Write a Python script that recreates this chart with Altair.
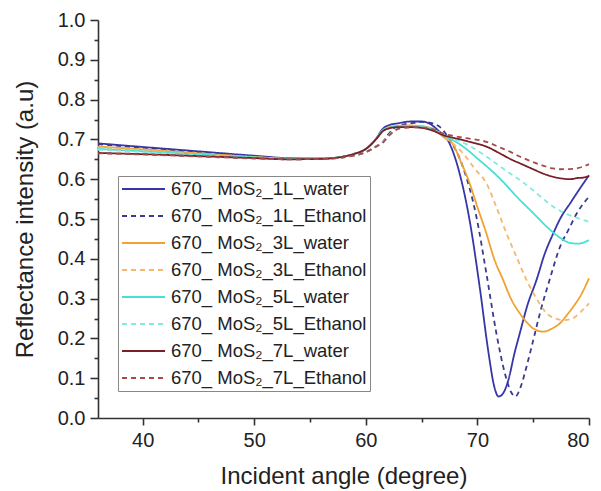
import altair as alt
import pandas as pd

# ---- data ----
SERIES = [
    "670_ MoS\u2082_1L_water",
    "670_ MoS\u2082_1L_Ethanol",
    "670_ MoS\u2082_3L_water",
    "670_ MoS\u2082_3L_Ethanol",
    "670_ MoS\u2082_5L_water",
    "670_ MoS\u2082_5L_Ethanol",
    "670_ MoS\u2082_7L_water",
    "670_ MoS\u2082_7L_Ethanol",
]
COLORS = ["#3636A8", "#3A3A90", "#F0A232", "#F4B870",
          "#46E0D6", "#86E8E0", "#7A1E28", "#A84A4A"]
DASHES = [[1, 0], [5, 4], [1, 0], [5, 4], [1, 0], [5, 4], [1, 0], [5, 4]]

X_LEFT = [36, 40, 45, 50, 53, 56, 58, 59, 60, 60.5, 61, 61.5, 62, 63, 64, 65]
Y_LEFT_1W = [0.690, 0.681, 0.670, 0.659, 0.653, 0.652, 0.657, 0.664, 0.676, 0.688, 0.705, 0.726, 0.735, 0.741, 0.745, 0.745]
Y_LEFT_3W = [0.682, 0.675, 0.665, 0.656, 0.652, 0.652, 0.657, 0.664, 0.676, 0.688, 0.704, 0.722, 0.730, 0.734, 0.735, 0.733]
Y_LEFT_5W = [0.676, 0.670, 0.662, 0.655, 0.651, 0.652, 0.657, 0.664, 0.676, 0.688, 0.704, 0.722, 0.729, 0.733, 0.734, 0.732]
Y_LEFT_7W = [0.666, 0.663, 0.658, 0.653, 0.650, 0.651, 0.657, 0.664, 0.676, 0.688, 0.703, 0.720, 0.727, 0.731, 0.731, 0.729]

X_LEFT_E = [36, 40, 45, 50, 53, 56, 58, 59, 60, 60.5, 61, 61.5, 62, 62.5, 63, 64, 65]
Y_LEFT_1E = [0.688, 0.679, 0.668, 0.657, 0.652, 0.651, 0.655, 0.660, 0.668, 0.675, 0.684, 0.693, 0.712, 0.727, 0.735, 0.740, 0.744]
Y_LEFT_3E = [0.680, 0.673, 0.663, 0.655, 0.651, 0.651, 0.655, 0.660, 0.668, 0.675, 0.683, 0.692, 0.708, 0.722, 0.729, 0.733, 0.733]
Y_LEFT_5E = [0.674, 0.668, 0.660, 0.654, 0.650, 0.651, 0.655, 0.660, 0.668, 0.675, 0.683, 0.692, 0.708, 0.722, 0.729, 0.733, 0.732]
Y_LEFT_7E = [0.665, 0.662, 0.657, 0.652, 0.650, 0.651, 0.655, 0.660, 0.668, 0.675, 0.683, 0.691, 0.707, 0.720, 0.727, 0.730, 0.730]

X_1W = [65.8, 66.5, 67.5, 68.4, 69.3, 70.2, 71.0, 71.5, 71.9, 72.3, 72.8, 73.3, 73.8, 74.5, 75.3, 76.0, 76.8, 77.5, 78.3, 79.1, 80]
Y_1W = [0.738, 0.722, 0.690, 0.615, 0.497, 0.330, 0.163, 0.080, 0.054, 0.062, 0.098, 0.160, 0.213, 0.285, 0.347, 0.410, 0.464, 0.505, 0.539, 0.573, 0.610]
X_1E = [66.0, 66.6, 67.5, 68.7, 69.9, 70.8, 71.7, 72.5, 73.0, 73.4, 73.9, 74.4, 75.0, 75.6, 76.5, 77.4, 78.2, 78.9, 80]
Y_1E = [0.740, 0.732, 0.700, 0.631, 0.507, 0.364, 0.213, 0.108, 0.066, 0.054, 0.080, 0.129, 0.195, 0.263, 0.350, 0.430, 0.475, 0.514, 0.556]
X_3W = [66, 67, 67.8, 68.5, 69.3, 70, 70.8, 71.5, 72.3, 73, 73.8, 74.5, 75.0, 75.9, 76.7, 77.4, 78, 78.6, 79.3, 80]
Y_3W = [0.727, 0.705, 0.688, 0.645, 0.590, 0.530, 0.464, 0.400, 0.347, 0.300, 0.263, 0.238, 0.225, 0.217, 0.225, 0.238, 0.258, 0.280, 0.310, 0.351]
X_3E = [66, 67, 68, 68.7, 69.8, 70.8, 71.7, 72.6, 73.5, 74.4, 75.3, 76.2, 77, 77.7, 78.5, 79.2, 80]
Y_3E = [0.725, 0.707, 0.685, 0.665, 0.625, 0.590, 0.530, 0.464, 0.405, 0.347, 0.300, 0.263, 0.250, 0.246, 0.250, 0.265, 0.288]
X_5W = [66, 67, 67.8, 69, 70, 70.8, 72, 73, 73.8, 75, 76.2, 77.3, 78.3, 79, 80]
Y_5W = [0.725, 0.709, 0.698, 0.676, 0.652, 0.633, 0.602, 0.572, 0.548, 0.515, 0.481, 0.455, 0.440, 0.438, 0.447]
X_5E = [66, 67, 68, 69, 70, 70.8, 72, 73, 73.8, 75, 76, 76.8, 77.8, 78.6, 80]
Y_5E = [0.727, 0.712, 0.700, 0.688, 0.672, 0.657, 0.633, 0.613, 0.598, 0.572, 0.548, 0.531, 0.515, 0.506, 0.493]
X_7W = [66, 67, 68, 69, 70, 70.8, 72, 73, 73.8, 75, 76, 76.8, 77.5, 78.3, 79, 79.5, 80]
Y_7W = [0.722, 0.710, 0.703, 0.696, 0.689, 0.682, 0.665, 0.650, 0.640, 0.625, 0.613, 0.606, 0.602, 0.600, 0.603, 0.604, 0.608]
X_7E = [66, 67, 68, 69, 70, 70.8, 72, 73, 73.8, 75, 76, 76.8, 77.5, 78.5, 79.3, 80]
Y_7E = [0.726, 0.714, 0.708, 0.703, 0.699, 0.694, 0.680, 0.668, 0.657, 0.643, 0.633, 0.627, 0.625, 0.626, 0.630, 0.638]

X_TICKS = [40, 50, 60, 70, 80]
X_MINOR = [45, 55, 65, 75]
Y_TICKS = [0.0, 0.1, 0.2, 0.3, 0.4, 0.5, 0.6, 0.7, 0.8, 0.9, 1.0]
Y_MINOR = [0.05, 0.15, 0.25, 0.35, 0.45, 0.55, 0.65, 0.75, 0.85, 0.95]

parts = [
    (X_LEFT + X_1W, Y_LEFT_1W + Y_1W),
    (X_LEFT_E + X_1E, Y_LEFT_1E + Y_1E),
    (X_LEFT + X_3W, Y_LEFT_3W + Y_3W),
    (X_LEFT_E + X_3E, Y_LEFT_3E + Y_3E),
    (X_LEFT + X_5W, Y_LEFT_5W + Y_5W),
    (X_LEFT_E + X_5E, Y_LEFT_5E + Y_5E),
    (X_LEFT + X_7W, Y_LEFT_7W + Y_7W),
    (X_LEFT_E + X_7E, Y_LEFT_7E + Y_7E),
]
rows = []
for name, (xs, ys) in zip(SERIES, parts):
    for xv, yv in zip(xs, ys):
        rows.append({"series": name, "angle": xv, "refl": yv})
df = pd.DataFrame(rows)

FONT = "Liberation Sans"
xscale = alt.Scale(domain=[36, 80], nice=False, zero=False)
yscale = alt.Scale(domain=[0, 1], nice=False)

lines = alt.Chart(df).mark_line(strokeWidth=1.8, interpolate="monotone").encode(
    x=alt.X("angle:Q", scale=xscale,
            axis=alt.Axis(values=X_TICKS, format="d", title="Incident angle (degree)",
                          orient="bottom", tickSize=7, grid=False, labelPadding=5,
                          titlePadding=14)),
    y=alt.Y("refl:Q", scale=yscale,
            axis=alt.Axis(values=Y_TICKS, format=".1f", title="Reflectance intensity (a.u)",
                          orient="left", tickSize=8, grid=False, labelPadding=5,
                          titlePadding=20)),
    color=alt.Color("series:N", scale=alt.Scale(domain=SERIES, range=COLORS),
                    legend=alt.Legend(title=None, orient="none", legendX=20, legendY=156,
                                      symbolType="stroke", symbolSize=1849,
                                      symbolStrokeWidth=2, clipHeight=20, rowPadding=7,
                                      labelFontSize=18.5, labelFont=FONT, labelColor="#222",
                                      labelOffset=5, padding=3, strokeColor="#888",
                                      fillColor="white", labelLimit=400)),
    strokeDash=alt.StrokeDash("series:N", scale=alt.Scale(domain=SERIES, range=DASHES),
                              legend=alt.Legend(title=None, orient="none", legendX=20,
                                                legendY=156)),
    detail="series:N",
)

minor = alt.Chart(df).mark_line(opacity=0).encode(
    x=alt.X("angle:Q", scale=xscale,
            axis=alt.Axis(values=X_MINOR, labels=False, domain=False, title=None,
                          orient="bottom", tickSize=4, grid=False)),
    y=alt.Y("refl:Q", scale=yscale,
            axis=alt.Axis(values=Y_MINOR, labels=False, domain=False, title=None,
                          orient="left", tickSize=4, grid=False)),
    detail="series:N",
)

chart = alt.layer(lines, minor).resolve_axis(x="independent", y="independent").properties(
    width=491, height=398,
    autosize=alt.AutoSizeParams(type="none"),
    padding={"left": 98, "top": 20, "right": 12, "bottom": 73},
).configure_view(stroke=None).configure_axis(
    domainColor="#333", domainWidth=1.6, tickColor="#333", tickWidth=1.6,
    labelFont=FONT, labelFontSize=20, labelColor="#222",
    titleFont=FONT, titleFontSize=24, titleFontWeight="normal", titleColor="#222",
)

chart.save("out.html", embed_options={"renderer": "svg", "actions": False})
